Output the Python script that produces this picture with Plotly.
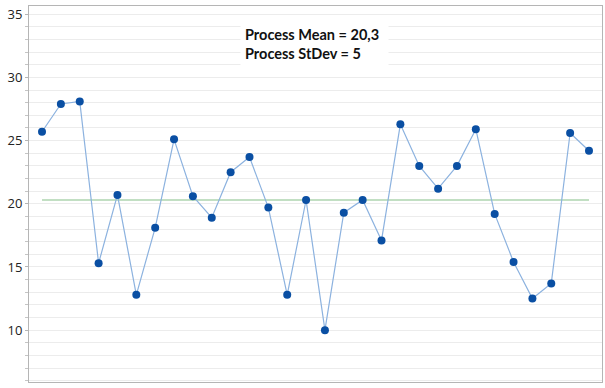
import plotly.graph_objects as go

observation = list(range(1, 31))
values = [25.7, 27.9, 28.1, 15.3, 20.7, 12.8, 18.1, 25.1, 20.6, 18.9,
          22.5, 23.7, 19.7, 12.8, 20.3, 10.0, 19.3, 20.3, 17.1, 26.3,
          23.0, 21.2, 23.0, 25.9, 19.2, 15.4, 12.5, 13.7, 25.6, 24.2]
process_mean = 20.3
process_stdev = 5
y_tick_vals = [10, 15, 20, 25, 30, 35]

fig = go.Figure()
fig.add_trace(go.Scatter(
    x=observation, y=[process_mean] * len(observation), mode="lines",
    line=dict(color="#86c087", width=1.2), hoverinfo="skip", showlegend=False))
fig.add_trace(go.Scatter(
    x=observation, y=values, mode="lines+markers",
    line=dict(color="#8cb2df", width=1.2),
    marker=dict(color="#0a4fa3", size=8),
    showlegend=False))

fig.add_annotation(
    xref="paper", yref="paper", x=0.368, y=0.963, xanchor="left", yanchor="top",
    text="<b>Process Mean = 20,3</b><br><b>Process StDev = 5</b>",
    showarrow=False, align="left", valign="middle",
    width=139, height=38, borderpad=4, bgcolor="white",
    font=dict(family="Lato", size=14.5, color="#111111"))

fig.update_xaxes(range=[0.31, 30.69], showgrid=False, zeroline=False,
                 showticklabels=False, ticks="", showline=True,
                 linecolor="#b5b5b5", linewidth=1, mirror=True)
fig.update_yaxes(range=[5.9, 35.65], tickvals=y_tick_vals, zeroline=False,
                 showgrid=True, gridcolor="#ececec", gridwidth=1,
                 ticks="outside", ticklen=3, tickcolor="#b5b5b5",
                 minor=dict(dtick=1, tick0=0, showgrid=True, gridcolor="#ececec",
                            ticks="outside", ticklen=3, tickcolor="#c5c5c5"),
                 showline=True, linecolor="#b5b5b5", linewidth=1, mirror=True,
                 tickfont=dict(family="Open Sans", size=13, color="#222222"))

fig.update_layout(width=605, height=388, margin=dict(l=29, r=3, t=6, b=6),
                  paper_bgcolor="white", plot_bgcolor="white")
fig.write_html("out.html", config={"displayModeBar": False})

with open("out.html", "r", encoding="utf-8") as f:
    html = f.read()
html = html.replace("<head>", "<head><style>html,body{margin:0;padding:0;overflow:hidden}</style>", 1)
with open("out.html", "w", encoding="utf-8") as f:
    f.write(html)
